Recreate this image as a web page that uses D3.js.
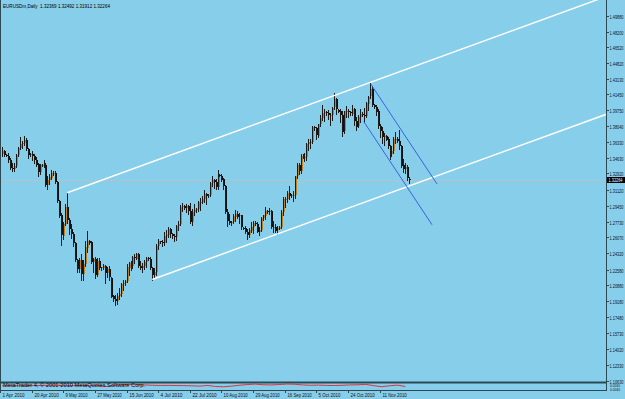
<!DOCTYPE html>
<html>
<head>
<meta charset="utf-8">
<script src="https://cdn.jsdelivr.net/npm/d3@7"></script>
<style>
  html, body { margin: 0; padding: 0; background: #87ceeb; }
  svg { display: block; }
  text { font-family: "Liberation Sans", Arial, sans-serif; }
</style>
</head>
<body>
<svg id="chart"></svg>
<script>
// EURUSDm daily bars, 1 Apr 2010 .. 28 Nov 2010 (Sunday bars included)
const opens = [
  1.3505, 1.3535,
  1.3490, 1.3485, 1.3440, 1.3350, 1.3340, 1.3375,
  1.3490, 1.3570, 1.3610, 1.3620, 1.3655, 1.3555,
  1.3495, 1.3500, 1.3480, 1.3440, 1.3390, 1.3300,
  1.3380, 1.3380, 1.3380, 1.3170, 1.3220, 1.3250,
  1.3300, 1.3300, 1.3200, 1.3000, 1.2840, 1.2620,
  1.2750, 1.2930, 1.2790, 1.2690, 1.2640, 1.2540,
  1.2360, 1.2260, 1.2360, 1.2210, 1.2320, 1.2500,
  1.2570, 1.2550, 1.2340, 1.2370, 1.2200, 1.2350,
  1.2270, 1.2280, 1.2300, 1.2220, 1.2260, 1.2170,
  1.1970, 1.1940, 1.1920, 1.1970, 1.1990, 1.2100,
  1.2110, 1.2130, 1.2280, 1.2330, 1.2290, 1.2390,
  1.2380, 1.2430, 1.2300, 1.2280, 1.2300, 1.2340,
  1.2380, 1.2370, 1.2270, 1.2200, 1.2230, 1.2510,
  1.2560, 1.2550, 1.2540, 1.2620, 1.2630, 1.2690,
  1.2640, 1.2620, 1.2610, 1.2730, 1.2750, 1.2930,
  1.2940, 1.2920, 1.2940, 1.2890, 1.2770, 1.2880,
  1.2900, 1.2910, 1.2990, 1.2990, 1.3020, 1.3070,
  1.3050, 1.3060, 1.3190, 1.3220, 1.3200, 1.3150,
  1.3280, 1.3270, 1.3230, 1.3160, 1.2880, 1.2780,
  1.2760, 1.2770, 1.2830, 1.2860, 1.2830, 1.2840,
  1.2710, 1.2700, 1.2660, 1.2630, 1.2680, 1.2720,
  1.2760, 1.2750, 1.2660, 1.2680, 1.2810, 1.2840,
  1.2890, 1.2880, 1.2890, 1.2720, 1.2720, 1.2680,
  1.2700, 1.2720, 1.2880, 1.3020, 1.3020, 1.3080,
  1.3050, 1.3060, 1.3060, 1.3260, 1.3380, 1.3320,
  1.3480, 1.3470, 1.3470, 1.3610, 1.3630, 1.3630,
  1.3790, 1.3780, 1.3700, 1.3830, 1.3890, 1.3940,
  1.3950, 1.3940, 1.3920, 1.3920, 1.4000, 1.4090,
  1.3980, 1.3960, 1.3920, 1.3740, 1.3960, 1.3960,
  1.3950, 1.3940, 1.3990, 1.3860, 1.3800, 1.3900,
  1.3930, 1.3920, 1.3910, 1.4050, 1.4120, 1.4200,
  1.4030, 1.4010, 1.3960, 1.3800, 1.3750, 1.3690,
  1.3700, 1.3660, 1.3580, 1.3500, 1.3530, 1.3660,
  1.3660, 1.3640, 1.3590, 1.3380, 1.3340, 1.3360,
  1.32369
];
const highs = [
  1.3575, 1.3545,
  1.3500, 1.3510, 1.3460, 1.3400, 1.3400, 1.3500,
  1.3580, 1.3690, 1.3640, 1.3695, 1.3670, 1.3565,
  1.3510, 1.3530, 1.3500, 1.3470, 1.3400, 1.3390,
  1.3390, 1.3440, 1.3400, 1.3260, 1.3290, 1.3330,
  1.3320, 1.3320, 1.3210, 1.3010, 1.2870, 1.2770,
  1.2960, 1.3085, 1.2810, 1.2750, 1.2660, 1.2550,
  1.2370, 1.2380, 1.2420, 1.2360, 1.2560, 1.2670,
  1.2580, 1.2560, 1.2380, 1.2390, 1.2380, 1.2380,
  1.2290, 1.2320, 1.2310, 1.2290, 1.2300, 1.2180,
  1.1980, 1.1980, 1.2000, 1.2060, 1.2110, 1.2150,
  1.2140, 1.2320, 1.2340, 1.2350, 1.2400, 1.2420,
  1.2440, 1.2440, 1.2350, 1.2330, 1.2360, 1.2390,
  1.2390, 1.2390, 1.2290, 1.2270, 1.2530, 1.2590,
  1.2570, 1.2580, 1.2660, 1.2680, 1.2720, 1.2700,
  1.2650, 1.2640, 1.2740, 1.2780, 1.2950, 1.2970,
  1.2950, 1.2960, 1.2950, 1.2970, 1.2910, 1.2960,
  1.2920, 1.3000, 1.3030, 1.3050, 1.3110, 1.3080,
  1.3070, 1.3200, 1.3260, 1.3230, 1.3230, 1.3330,
  1.3290, 1.3290, 1.3240, 1.3170, 1.2910, 1.2860,
  1.2780, 1.2860, 1.2900, 1.2890, 1.2870, 1.2850,
  1.2720, 1.2730, 1.2690, 1.2700, 1.2770, 1.2780,
  1.2780, 1.2770, 1.2720, 1.2820, 1.2850, 1.2930,
  1.2900, 1.2920, 1.2900, 1.2780, 1.2750, 1.2730,
  1.2730, 1.2900, 1.3040, 1.3040, 1.3100, 1.3160,
  1.3070, 1.3100, 1.3270, 1.3400, 1.3410, 1.3500,
  1.3500, 1.3510, 1.3620, 1.3660, 1.3660, 1.3800,
  1.3800, 1.3790, 1.3830, 1.3920, 1.4030, 1.3990,
  1.3970, 1.3980, 1.3940, 1.4010, 1.4160, 1.4110,
  1.3990, 1.3990, 1.3970, 1.3970, 1.4020, 1.3990,
  1.3970, 1.4030, 1.4000, 1.3900, 1.3920, 1.3990,
  1.3950, 1.4000, 1.4060, 1.4130, 1.4271, 1.4230,
  1.4040, 1.4030, 1.3990, 1.3830, 1.3790, 1.3730,
  1.3710, 1.3690, 1.3600, 1.3590, 1.3690, 1.3740,
  1.3680, 1.3760, 1.3600, 1.3450, 1.3400, 1.3380,
  1.32492
];
const lows = [
  1.3485, 1.3475,
  1.3480, 1.3420, 1.3335, 1.3315, 1.3320, 1.3360,
  1.3485, 1.3560, 1.3570, 1.3600, 1.3540, 1.3455,
  1.3480, 1.3440, 1.3410, 1.3370, 1.3270, 1.3290,
  1.3370, 1.3360, 1.3160, 1.3120, 1.3180, 1.3230,
  1.3280, 1.3190, 1.2990, 1.2820, 1.2520, 1.2590,
  1.2740, 1.2760, 1.2640, 1.2600, 1.2510, 1.2350,
  1.2230, 1.2230, 1.2140, 1.2150, 1.2300, 1.2450,
  1.2530, 1.2330, 1.2230, 1.2170, 1.2190, 1.2260,
  1.2250, 1.2260, 1.2110, 1.2180, 1.2150, 1.1960,
  1.1920, 1.1880, 1.1890, 1.1940, 1.1970, 1.2040,
  1.2090, 1.2120, 1.2200, 1.2250, 1.2270, 1.2330,
  1.2375, 1.2280, 1.2260, 1.2230, 1.2260, 1.2290,
  1.2360, 1.2260, 1.2150, 1.2180, 1.2200, 1.2480,
  1.2540, 1.2510, 1.2520, 1.2550, 1.2610, 1.2610,
  1.2600, 1.2560, 1.2580, 1.2680, 1.2740, 1.2890,
  1.2910, 1.2880, 1.2860, 1.2760, 1.2740, 1.2850,
  1.2880, 1.2890, 1.2900, 1.2970, 1.2990, 1.2960,
  1.3040, 1.3050, 1.3160, 1.3140, 1.3130, 1.3130,
  1.3260, 1.3210, 1.3120, 1.2870, 1.2730, 1.2750,
  1.2740, 1.2760, 1.2780, 1.2810, 1.2760, 1.2690,
  1.2690, 1.2650, 1.2590, 1.2610, 1.2660, 1.2650,
  1.2740, 1.2660, 1.2630, 1.2670, 1.2790, 1.2800,
  1.2870, 1.2860, 1.2710, 1.2660, 1.2660, 1.2640,
  1.2690, 1.2710, 1.2850, 1.2930, 1.2990, 1.3020,
  1.3040, 1.3000, 1.3030, 1.3240, 1.3290, 1.3300,
  1.3460, 1.3430, 1.3440, 1.3550, 1.3570, 1.3620,
  1.3760, 1.3660, 1.3680, 1.3800, 1.3870, 1.3860,
  1.3920, 1.3880, 1.3810, 1.3870, 1.3990, 1.3930,
  1.3950, 1.3850, 1.3700, 1.3730, 1.3900, 1.3900,
  1.3920, 1.3920, 1.3810, 1.3760, 1.3790, 1.3850,
  1.3910, 1.3850, 1.3900, 1.3980, 1.4110, 1.4020,
  1.4000, 1.3920, 1.3780, 1.3680, 1.3620, 1.3600,
  1.3650, 1.3570, 1.3450, 1.3480, 1.3510, 1.3620,
  1.3630, 1.3560, 1.3360, 1.3310, 1.3300, 1.3220,
  1.31912
];
const closes = [
  1.3535, 1.3490,
  1.3485, 1.3440, 1.3350, 1.3340, 1.3375, 1.3490,
  1.3570, 1.3610, 1.3620, 1.3655, 1.3555, 1.3495,
  1.3500, 1.3480, 1.3440, 1.3390, 1.3300, 1.3380,
  1.3380, 1.3380, 1.3170, 1.3220, 1.3250, 1.3300,
  1.3300, 1.3200, 1.3000, 1.2840, 1.2620, 1.2750,
  1.2930, 1.2790, 1.2690, 1.2640, 1.2540, 1.2360,
  1.2260, 1.2360, 1.2210, 1.2320, 1.2500, 1.2570,
  1.2550, 1.2340, 1.2370, 1.2200, 1.2350, 1.2270,
  1.2280, 1.2300, 1.2220, 1.2260, 1.2170, 1.1970,
  1.1940, 1.1920, 1.1970, 1.1990, 1.2100, 1.2110,
  1.2130, 1.2280, 1.2330, 1.2290, 1.2390, 1.2380,
  1.2430, 1.2300, 1.2280, 1.2300, 1.2340, 1.2380,
  1.2370, 1.2270, 1.2200, 1.2230, 1.2510, 1.2560,
  1.2550, 1.2540, 1.2620, 1.2630, 1.2690, 1.2640,
  1.2620, 1.2610, 1.2730, 1.2750, 1.2930, 1.2940,
  1.2920, 1.2940, 1.2890, 1.2770, 1.2880, 1.2900,
  1.2910, 1.2990, 1.2990, 1.3020, 1.3070, 1.3050,
  1.3060, 1.3190, 1.3220, 1.3200, 1.3150, 1.3280,
  1.3270, 1.3230, 1.3160, 1.2880, 1.2780, 1.2760,
  1.2770, 1.2830, 1.2860, 1.2830, 1.2840, 1.2710,
  1.2700, 1.2660, 1.2630, 1.2680, 1.2720, 1.2760,
  1.2750, 1.2660, 1.2680, 1.2810, 1.2840, 1.2890,
  1.2880, 1.2890, 1.2720, 1.2720, 1.2680, 1.2700,
  1.2720, 1.2880, 1.3020, 1.3020, 1.3080, 1.3050,
  1.3060, 1.3060, 1.3260, 1.3380, 1.3320, 1.3480,
  1.3470, 1.3470, 1.3610, 1.3630, 1.3630, 1.3790,
  1.3780, 1.3700, 1.3830, 1.3890, 1.3940, 1.3950,
  1.3940, 1.3920, 1.3920, 1.4000, 1.4090, 1.3980,
  1.3960, 1.3920, 1.3740, 1.3960, 1.3960, 1.3950,
  1.3940, 1.3990, 1.3860, 1.3800, 1.3900, 1.3930,
  1.3920, 1.3910, 1.4050, 1.4120, 1.4200, 1.4030,
  1.4010, 1.3960, 1.3800, 1.3750, 1.3690, 1.3700,
  1.3660, 1.3580, 1.3500, 1.3530, 1.3660, 1.3660,
  1.3640, 1.3590, 1.3380, 1.3340, 1.3360, 1.3237,
  1.32264
];

// sub-window indicator line, one value every 4 bars
const indicatorBars = d3.range(0, 207, 4);
const indicator = [
  0.0160, 0.0158, 0.0162, 0.0160, 0.0165, 0.0170, 0.0175, 0.0178, 0.0172, 0.0168,
  0.0166, 0.0170, 0.0172, 0.0140, 0.0165, 0.0190, 0.0200, 0.0195, 0.0185, 0.0175,
  0.0170, 0.0172, 0.0168, 0.0165, 0.0160, 0.0150, 0.0170, 0.0140, 0.0132, 0.0150,
  0.0175, 0.0195, 0.0210, 0.0190, 0.0185, 0.0195, 0.0210, 0.0205, 0.0185, 0.0175,
  0.0180, 0.0172, 0.0168, 0.0175, 0.0185, 0.0190, 0.0200, 0.0165, 0.0134, 0.0160,
  0.0180, 0.0140
];
const subLabels = ["0.0240", "0.0040"];

const priceTicks = [1.49880, 1.48200, 1.46520, 1.44820, 1.43130, 1.41450, 1.39750, 1.38040,
  1.36330, 1.34630, 1.32920, 1.31120, 1.29450, 1.27730, 1.26070, 1.24320, 1.22580,
  1.20880, 1.19180, 1.17480, 1.15730, 1.14020, 1.12330, 1.10630];
const dateLabels = ["1 Apr 2010", "20 Apr 2010", "9 May 2010", "27 May 2010", "15 Jun 2010",
  "4 Jul 2010", "22 Jul 2010", "10 Aug 2010", "29 Aug 2010", "16 Sep 2010", "5 Oct 2010",
  "24 Oct 2010", "11 Nov 2010"];
const dateLabelBars = [0, 16, 32, 48, 64, 80, 96, 112, 128, 144, 160, 176, 192];

// trend lines as [bar, price] pairs
const channelUpper = [[33, 1.3085], [186, 1.4271]];
const channelLower = [[76, 1.2150], [229, 1.3336]];
const downUpper = [[186.5, 1.4256], [220, 1.3180]];
const downLower = [[183, 1.3850], [217.5, 1.2740]];

const title = "EURUSDm,Daily  1.32369 1.32492 1.31912 1.32264";
const bid = 1.32264;

const width = 625, height = 399;
const plotRight = 606, mainBottom = 382, subTop = 383, subBottom = 390;

const svg = d3.select("#chart").attr("width", width).attr("height", height);
svg.append("rect").attr("width", width).attr("height", height).attr("fill", "#87ceeb");

const x = d3.scaleLinear().domain([0, 192]).range([2, 381.6]);
const y = d3.scaleLinear().domain([1.1047, 1.5160]).range([mainBottom, 0]);
const ySub = d3.scaleLinear().domain([0.004, 0.024]).range([subBottom, subTop]);

svg.append("clipPath").attr("id", "main-clip")
  .append("rect").attr("x", 0).attr("y", 0).attr("width", plotRight).attr("height", mainBottom);

const main = svg.append("g").attr("clip-path", "url(#main-clip)");

// bid line
main.append("line")
  .attr("x1", 0).attr("x2", plotRight)
  .attr("y1", Math.round(y(bid)) + 0.5).attr("y2", Math.round(y(bid)) + 0.5)
  .attr("stroke", "#b4c2c8").attr("stroke-width", 1);

// candles: 2px body, wick drawn on its left column
const bars = d3.range(closes.length);
const cx = (i) => Math.round(x(i));
const candles = main.append("g").attr("shape-rendering", "crispEdges");
candles.selectAll("rect").data(bars).join("rect")
  .attr("x", (i) => cx(i))
  .attr("width", 2)
  .attr("y", (i) => Math.round(y(Math.max(opens[i], closes[i]))))
  .attr("height", (i) => Math.max(1, Math.round(Math.abs(y(opens[i]) - y(closes[i])))))
  .attr("fill", (i) => closes[i] >= opens[i] ? "#c17f1e" : "#111");
candles.selectAll("line").data(bars).join("line")
  .attr("x1", (i) => cx(i) + 0.5).attr("x2", (i) => cx(i) + 0.5)
  .attr("y1", (i) => Math.round(y(highs[i]))).attr("y2", (i) => Math.round(y(lows[i])) + 1)
  .attr("stroke", "#1c1c1c").attr("stroke-width", 1);

// rays / trend lines
const ray = (pts) => {
  const [[b1, p1], [b2, p2]] = pts;
  const s = (p2 - p1) / (b2 - b1);
  const bEnd = x.invert(plotRight + 20);
  return [[b1, p1], [bEnd, p1 + s * (bEnd - b1)]];
};
const lineGen = d3.line().x((d) => x(d[0])).y((d) => y(d[1]));
[channelUpper, channelLower].forEach((pts) => {
  main.append("path").attr("d", lineGen(ray(pts)))
    .attr("fill", "none").attr("stroke", "#fff").attr("stroke-width", 1.5);
});
[downUpper, downLower].forEach((pts) => {
  main.append("path").attr("d", lineGen(pts))
    .attr("fill", "none").attr("stroke", "#3a62e6").attr("stroke-width", 1);
});

// title
svg.append("text").attr("x", 3).attr("y", 7.5)
  .attr("font-size", 5.6).attr("fill", "#000")
  .attr("textLength", 107).attr("lengthAdjust", "spacingAndGlyphs")
  .style("white-space", "pre")
  .text(title);

// frame
const frame = "#2b4a55";
svg.append("line").attr("x1", 0.5).attr("x2", 0.5).attr("y1", 0).attr("y2", subBottom).attr("stroke", frame);
svg.append("line").attr("x1", plotRight + 0.5).attr("x2", plotRight + 0.5).attr("y1", 0).attr("y2", subBottom).attr("stroke", frame);
svg.append("line").attr("x1", 0).attr("x2", plotRight).attr("y1", mainBottom + 0.5).attr("y2", mainBottom + 0.5)
  .attr("stroke", frame).attr("stroke-width", 2);
svg.append("line").attr("x1", 0).attr("x2", plotRight + 1).attr("y1", subBottom + 0.5).attr("y2", subBottom + 0.5).attr("stroke", frame);

// price axis
const yAxis = svg.append("g");
priceTicks.forEach((p) => {
  const yy = Math.round(y(p)) + 0.5;
  yAxis.append("line").attr("x1", plotRight).attr("x2", plotRight + 3)
    .attr("y1", yy).attr("y2", yy).attr("stroke", frame);
  yAxis.append("text").attr("x", plotRight + 3.5).attr("y", yy + 2)
    .attr("font-size", 5.4).attr("fill", "#111")
    .attr("textLength", 14).attr("lengthAdjust", "spacingAndGlyphs")
    .text(p.toFixed(5));
});
// current price box
const by = Math.round(y(bid));
svg.append("rect").attr("x", plotRight + 1).attr("y", by - 3).attr("width", 18).attr("height", 6).attr("fill", "#000");
svg.append("text").attr("x", plotRight + 2.5).attr("y", by + 2)
  .attr("font-size", 5.4).attr("fill", "#fff")
  .attr("textLength", 14).attr("lengthAdjust", "spacingAndGlyphs")
  .text(bid.toFixed(5));

// sub window
svg.append("path").datum(indicatorBars.map((b, k) => [b, indicator[k]]))
  .attr("d", d3.line().x((d) => x(d[0])).y((d) => ySub(d[1])))
  .attr("fill", "none").attr("stroke", "#e8202a").attr("stroke-width", 0.9);
svg.append("text").attr("x", 3).attr("y", 387)
  .attr("font-size", 5.2).attr("fill", "#000")
  .attr("textLength", 142).attr("lengthAdjust", "spacingAndGlyphs")
  .text("MetaTrader 4, © 2001-2010 MetaQuotes Software Corp.");
subLabels.forEach((t, k) => {
  svg.append("text").attr("x", plotRight + 4).attr("y", k === 0 ? 386.5 : 390.5)
    .attr("font-size", 3.8).attr("fill", "#111")
    .attr("textLength", 10).attr("lengthAdjust", "spacingAndGlyphs").text(t);
});

// date axis
dateLabelBars.forEach((b, k) => {
  const xx = cx(b) - 1.5;
  svg.append("line").attr("x1", xx).attr("x2", xx).attr("y1", subBottom).attr("y2", subBottom + 3).attr("stroke", frame);
  svg.append("text").attr("x", xx + 2).attr("y", 397)
    .attr("font-size", 5.4).attr("fill", "#111")
    .attr("textLength", dateLabels[k].length * 2.2).attr("lengthAdjust", "spacingAndGlyphs")
    .text(dateLabels[k]);
});
</script>
</body>
</html>
